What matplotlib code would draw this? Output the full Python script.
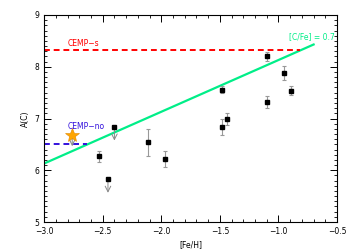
import numpy as np
from matplotlib import pyplot as plt
from matplotlib.ticker import MultipleLocator

# detections with error bars
feh = [-2.53, -2.11, -1.965, -1.48, -1.48, -1.44, -1.10, -1.095, -0.95, -0.895]
ac = [6.27, 6.54, 6.22, 7.56, 6.84, 6.99, 8.20, 7.32, 7.88, 7.54]
ac_err = [0.11, 0.26, 0.15, 0.07, 0.16, 0.11, 0.09, 0.11, 0.14, 0.09]

# upper limits
feh_lim = [-2.40, -2.455]
ac_lim = [6.84, 5.83]

# star
star_feh = -2.76
star_ac = 6.69

cemp_s = 8.32
cemp_no = 6.51
cfe = 0.7
solar_c = 8.43

fig = plt.figure(figsize=(3.5, 2.5), dpi=100)
ax = fig.add_axes([0.126, 0.112, 0.837, 0.828])

# [C/Fe] = 0.7 line
x_line = np.array([-3.0, -0.70])
ax.plot(x_line, x_line + solar_c + cfe, color='#00ee88', lw=1.6, zorder=2)

ax.plot([-3.0, -0.82], [cemp_s, cemp_s], color='red', ls=(0, (3, 2)), lw=1.4, zorder=2)
ax.plot([-3.0, -2.63], [cemp_no, cemp_no], color='#3311dd', ls=(0, (3, 2)), lw=1.4, zorder=2)

ax.errorbar(feh, ac, yerr=ac_err, fmt='s', color='black', ms=3.5,
            ecolor='#999999', elinewidth=0.8, capsize=1.5, capthick=0.8, zorder=4)
ax.plot(feh_lim, ac_lim, 's', color='black', ms=3.5, zorder=4)
for x, y in zip(feh_lim, ac_lim):
    ax.annotate('', xy=(x, y - 0.32), xytext=(x, y),
                arrowprops=dict(arrowstyle='->', color='#888888', lw=0.7), zorder=3)

ax.annotate('', xy=(star_feh, star_ac - 0.28), xytext=(star_feh, star_ac),
            arrowprops=dict(arrowstyle='->', color='#888888', lw=0.7), zorder=3)
ax.plot(star_feh, star_ac, '*', color='#ffa500', ms=10, mec='#e08800', mew=0.4, zorder=5)

ax.text(-2.8, 8.40, 'CEMP\u2212s', color='red', fontsize=5.5)
ax.text(-2.8, 6.80, 'CEMP\u2212no', color='#3311dd', fontsize=5.5)
ax.text(-0.52, 8.53, '[C/Fe] = 0.7', color='#00ee88', fontsize=5.5, ha='right')

ax.set_xlim(-3.0, -0.5)
ax.set_ylim(5, 9)
ax.xaxis.set_major_locator(MultipleLocator(0.5))
ax.xaxis.set_minor_locator(MultipleLocator(0.1))
ax.yaxis.set_major_locator(MultipleLocator(1))
ax.yaxis.set_minor_locator(MultipleLocator(0.1))
ax.tick_params(which='both', direction='in', top=True, right=True, labelsize=5.5)
ax.tick_params(which='major', length=5, width=0.7)
ax.tick_params(which='minor', length=2.5, width=0.6)
xt = [-3.0, -2.5, -2.0, -1.5, -1.0, -0.5]
ax.set_xticks(xt)
ax.set_xticklabels([f'{v:.1f}'.replace('-', '\u2212') for v in xt])
ax.set_yticks([5, 6, 7, 8, 9])
ax.set_yticklabels(['5', '6', '7', '8', '9'])
for s in ax.spines.values():
    s.set_linewidth(0.8)

ax.set_xlabel('[Fe/H]', fontsize=5.5, labelpad=3)
ax.set_ylabel('A(C)', fontsize=5.5, labelpad=3)

fig.savefig('out.png', dpi=100)
